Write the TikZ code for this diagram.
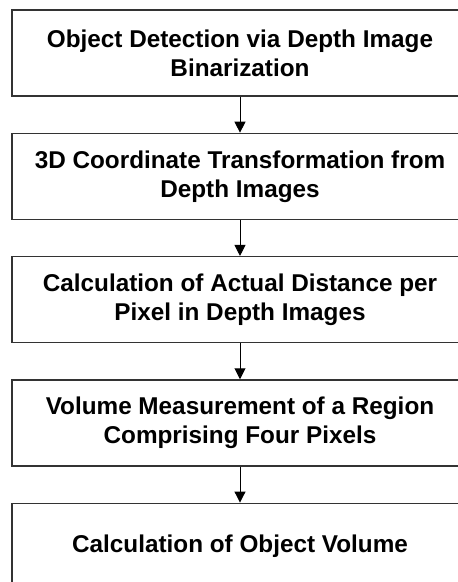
\documentclass[tikz,border=0pt]{standalone}
\usepackage{fontspec}
\setmainfont{Liberation Sans}
\usetikzlibrary{positioning}
\usetikzlibrary{arrows.meta}
\tikzstyle{stepbox}=[rectangle,draw=black!80,line width=1.3pt,minimum width=456pt,minimum height=86pt,inner sep=0pt,align=center,font=\fontsize{24.3}{29}\selectfont\bfseries]
\tikzstyle{flow}=[line width=1pt,-{Triangle[width=11pt,length=11pt]}]

\begin{document}
\begin{tikzpicture}[x=1pt,y=1pt]

\clip (0,0) rectangle (458,-582);

%steps
    \node[stepbox] (detect) at (240,-53) {Object Detection via Depth Image\\Binarization};
    \node[stepbox, below=36pt of detect] (coord) {3D Coordinate Transformation from\\Depth Images};
    \node[stepbox, below=36pt of coord] (dist) {Calculation of Actual Distance per\\Pixel in Depth Images};
    \node[stepbox, below=36pt of dist] (region) {Volume Measurement of a Region\\Comprising Four Pixels};
    \node[stepbox, below=36pt of region] (volume) {Calculation of Object Volume};

%arrows
  \foreach \source/ \dest in {detect/coord, coord/dist, dist/region, region/volume}
          \draw[flow] (\source) -- (\dest);

\end{tikzpicture}
\end{document}
